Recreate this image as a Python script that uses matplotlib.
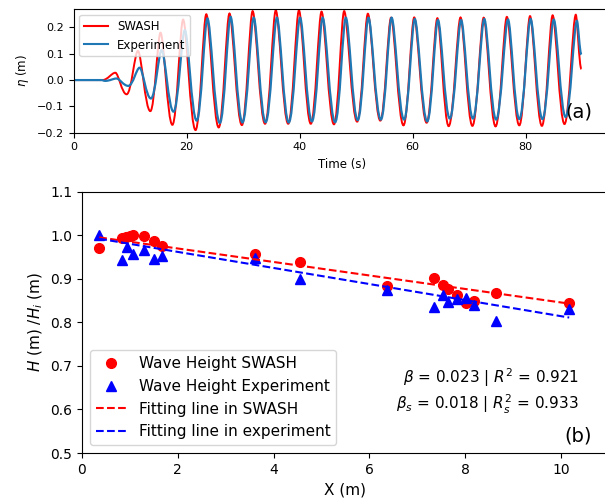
import numpy as np
import matplotlib
matplotlib.use("Agg")
import matplotlib.pyplot as plt
from matplotlib.path import Path
from matplotlib.patches import PathPatch
from matplotlib.lines import Line2D

swash_t = [0, 5.1, 7.4, 9.4, 11.4, 13.6, 15.4, 17.5, 19.4, 21.6, 23.5, 25.7, 27.6, 29.8,
           31.7, 33.9, 35.8, 38.0, 39.9, 42.0, 43.9, 46.1, 47.9, 50.2, 52.1, 54.3, 56.2,
           58.4, 60.3, 62.5, 64.4, 66.4, 68.5, 70.6, 72.6, 74.7, 76.7, 78.9, 80.8, 82.9,
           84.8, 86.9, 88.9, 89.9]
swash_eta = [0, 0, 0.028, -0.054, 0.111, -0.118, 0.18, -0.17, 0.23, -0.19, 0.25, -0.18,
             0.253, -0.171, 0.262, -0.166, 0.265, -0.166, 0.265, -0.166, 0.26, -0.168,
             0.262, -0.158, 0.252, -0.154, 0.237, -0.172, 0.238, -0.162, 0.235, -0.175,
             0.238, -0.174, 0.237, -0.176, 0.24, -0.172, 0.243, -0.174, 0.246, -0.167,
             0.248, 0.042]
exp_t = [0, 5.0, 5.6, 7.6, 9.7, 11.7, 13.7, 15.6, 17.7, 19.7, 21.8, 23.7, 25.9, 27.8,
         29.9, 31.9, 34.0, 36.0, 38.1, 40.1, 42.2, 44.1, 46.3, 48.2, 50.3, 52.2, 54.4,
         56.3, 58.5, 60.4, 62.6, 64.5, 66.6, 68.6, 70.7, 72.7, 74.8, 76.9, 78.9, 80.9,
         83.0, 85.0, 87.1, 89.1, 89.9]
exp_eta = [0, 0, -0.003, 0.006, -0.022, 0.047, -0.07, 0.114, -0.12, 0.19, -0.154, 0.234,
           -0.163, 0.24, -0.161, 0.237, -0.16, 0.237, -0.161, 0.237, -0.157, 0.237, -0.16,
           0.237, -0.152, 0.237, -0.15, 0.237, -0.15, 0.232, -0.157, 0.228, -0.146, 0.228,
           -0.146, 0.232, -0.15, 0.23, -0.148, 0.232, -0.148, 0.23, -0.14, 0.225, 0.097]

# panel (b): normalised wave height along the flume
swash_x = [0.36, 0.83, 0.92, 1.0, 1.07, 1.29, 1.50, 1.68, 3.61, 4.55, 6.36, 7.34, 7.53,
           7.65, 7.83, 8.02, 8.19, 8.64, 10.17]
swash_h = [0.970, 0.993, 0.995, 0.999, 1.0, 0.998, 0.986, 0.976, 0.956, 0.939, 0.884,
           0.902, 0.886, 0.876, 0.863, 0.845, 0.85, 0.867, 0.845]
exp_x = [0.36, 0.83, 0.93, 1.06, 1.29, 1.50, 1.68, 3.61, 4.55, 6.36, 7.34, 7.53, 7.65,
         7.83, 8.02, 8.19, 8.64, 10.17]
exp_h = [1.0, 0.943, 0.972, 0.956, 0.965, 0.946, 0.953, 0.947, 0.90, 0.874, 0.835, 0.863,
         0.847, 0.853, 0.856, 0.84, 0.802, 0.83]
fit_x = [0.36, 10.17]
swash_fit = [0.995, 0.843]
exp_fit = [0.992, 0.811]

stats_text = (r"$\beta$ = 0.023 | $R^2$ = 0.921" + "\n" +
              r"$\beta_s$ = 0.018 | $R_s^2$ = 0.933")


def wave_path(t, eta, crest_k=0.28, trough_k=0.42):
    # smooth curve through the extrema, horizontal tangent at each crest/trough
    verts = [(t[0], eta[0])]
    codes = [Path.MOVETO]
    for i in range(1, len(t)):
        dt = t[i] - t[i - 1]
        k0 = crest_k if eta[i - 1] > eta[i] else trough_k
        k1 = crest_k if eta[i] > eta[i - 1] else trough_k
        verts += [(t[i - 1] + k0 * dt, eta[i - 1]), (t[i] - k1 * dt, eta[i]), (t[i], eta[i])]
        codes += [Path.CURVE4] * 3
    return Path(verts, codes)


fig = plt.figure(figsize=(6.05, 5.01), dpi=100)

# (a) time series
ax1 = fig.add_axes([0.1215, 0.7351, 0.8872, 0.2469])
ax1.add_patch(PathPatch(wave_path(swash_t, swash_eta), fill=False, edgecolor="red", lw=1.4))
ax1.add_patch(PathPatch(wave_path(exp_t, exp_eta), fill=False, edgecolor="#1f77b4", lw=1.6))
ax1.set_xlim(0, 95)
ax1.set_ylim(-0.2, 0.27)
ax1.set_xticks([0, 20, 40, 60, 80])
ax1.set_yticks([-0.2, -0.1, 0.0, 0.1, 0.2])
ax1.tick_params(labelsize=8)
ax1.spines["right"].set_visible(False)
ax1.set_xlabel("Time (s)", fontsize=8.5)
ax1.set_ylabel(r"$\eta$ (m)", fontsize=8.5)
handles = [Line2D([], [], color="red", lw=1.5), Line2D([], [], color="#1f77b4", lw=1.5)]
ax1.legend(handles, ["SWASH", "Experiment"], loc="upper left", fontsize=8.5)
ax1.text(0.941, 0.17, "(a)", transform=ax1.transAxes, fontsize=14, ha="center", va="center")

# (b) wave height decay
ax2 = fig.add_axes([0.1355, 0.0958, 0.8711, 0.5216])
ax2.plot(swash_x, swash_h, "o", color="red", ms=7, label="Wave Height SWASH")
ax2.plot(exp_x, exp_h, "^", color="blue", ms=7, label="Wave Height Experiment")
ax2.plot(fit_x, swash_fit, "--", color="red", lw=1.5, label="Fitting line in SWASH")
ax2.plot(fit_x, exp_fit, "--", color="blue", lw=1.5, label="Fitting line in experiment")
ax2.set_xlim(0, 11)
ax2.set_ylim(0.5, 1.1)
ax2.set_xticks([0, 2, 4, 6, 8, 10])
ax2.tick_params(labelsize=10)
ax2.spines["right"].set_visible(False)
ax2.set_xlabel("X (m)", fontsize=11)
ax2.set_ylabel(r"$H$ (m) /$H_i$ (m)", fontsize=11)
ax2.legend(loc="lower left", fontsize=11)
ax2.text(0.943, 0.237, stats_text, transform=ax2.transAxes, fontsize=11,
         ha="right", va="center", multialignment="right")
ax2.text(0.941, 0.065, "(b)", transform=ax2.transAxes, fontsize=14, ha="center", va="center")

fig.savefig("out.png", dpi=100)
